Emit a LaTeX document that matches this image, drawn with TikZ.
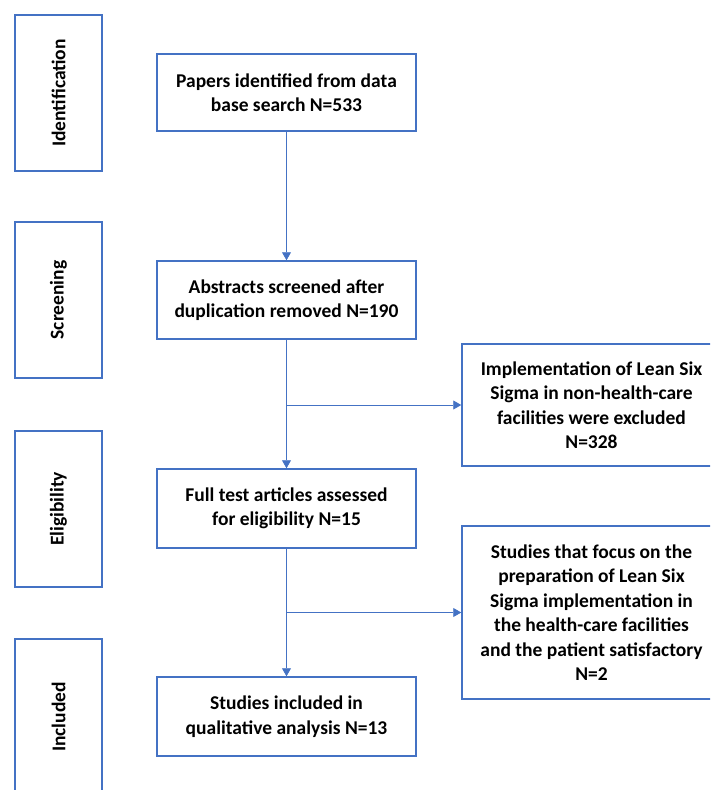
\documentclass[tikz,border=0pt]{standalone}
\usepackage{fontspec}
\setmainfont{Carlito}
\usetikzlibrary{arrows.meta}
\definecolor{boxblue}{HTML}{4472C4}

\begin{document}
\begin{tikzpicture}[x=1pt,y=-1pt,
    stage/.style={draw=boxblue,line width=1.5pt,rotate=90,minimum width=156pt,minimum height=87pt,inner sep=0pt,font=\bfseries\fontsize{19.5}{24.5}\selectfont},
    flowbox/.style={draw=boxblue,line width=1.5pt,minimum width=259pt,inner sep=0pt,align=center,font=\bfseries\fontsize{19.5}{24.5}\selectfont},
    link/.style={draw=boxblue,line width=0.8pt,-{Triangle[width=9pt,length=8pt]}}]
        \useasboundingbox (0,0) rectangle (710,790);
        \clip (0,0) rectangle (710,790);

        % stages on the left
        \node[stage] (ident) at (58.5,93) {Identification};
        \node[stage] (screen) at (58.5,300) {Screening};
        \node[stage] (elig) at (58.5,509) {Eligibility};
        \node[stage] (incl) at (58.5,717) {Included};

        % main flow
        \node[flowbox,minimum height=77pt] (papers) at (286.5,92.5) {Papers identified from data\\base search N=533};
        \node[flowbox,minimum height=78pt] (screened) at (286.5,300) {Abstracts screened after\\duplication removed N=190};
        \node[flowbox,minimum height=79pt] (fulltext) at (286.5,508.5) {Full test articles assessed\\for eligibility N=15};
        \node[flowbox,minimum height=79pt] (studies) at (286.5,716.5) {Studies included in\\qualitative analysis N=13};

        % excluded
        \node[flowbox,minimum height=122pt] (nonhealth) at (591.5,405) {Implementation of Lean Six\\Sigma in non-health-care\\facilities were excluded\\N=328};
        \node[flowbox,minimum height=173pt] (prepare) at (591.5,612.5) {Studies that focus on the\\preparation of Lean Six\\Sigma implementation in\\the health-care facilities\\and the patient satisfactory\\N=2};

        \draw[link] (papers) -- (screened);
        \draw[link] (screened) -- (fulltext);
        \draw[link] (fulltext) -- (studies);
        \draw[link] (screened.south |- nonhealth.west) -- (nonhealth.west);
        \draw[link] (fulltext.south |- prepare.west) -- (prepare.west);
    \end{tikzpicture}
\end{document}
